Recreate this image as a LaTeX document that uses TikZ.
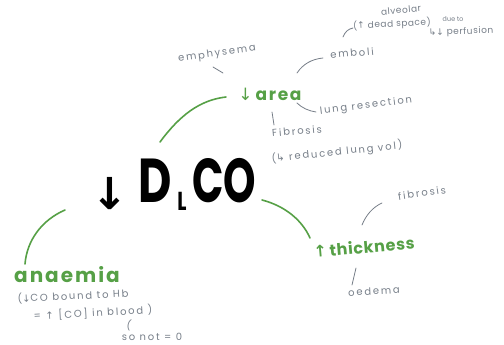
\documentclass[tikz,border=0pt]{standalone}
\usepackage{fontspec}
\setmainfont{Poppins}
\newfontfamily\sym{DejaVu Sans}
\definecolor{mg}{RGB}{86,160,70}
\definecolor{mgray}{RGB}{118,126,136}
\begin{document}
\begin{tikzpicture}[x=1pt,y=-1pt,
  note/.style={text=mgray,inner sep=0pt,align=center,font=\fontsize{10}{11}\selectfont\addfontfeatures{LetterSpace=18}},
  tight/.style={text=mgray,inner sep=0pt,align=center,font=\fontsize{9}{10}\selectfont\addfontfeatures{LetterSpace=6}},
  small/.style={text=mgray,inner sep=0pt,font=\fontsize{6.5}{7}\selectfont},
  topic/.style={text=mg,inner sep=0pt,font=\bfseries\fontsize{17}{18}\selectfont\addfontfeatures{LetterSpace=10}},
  big/.style={text=black,inner sep=0pt,font=\bfseries\fontsize{62}{62}\selectfont,xscale=0.74},
  gline/.style={draw=mg,line width=1.6pt,line cap=round},
  nline/.style={draw=mgray,line width=0.8pt,line cap=round}]
\useasboundingbox (0,0) rectangle (504,345);
% main term
\node[inner sep=0pt,font=\sym\bfseries\fontsize{44}{44}\selectfont] (arr) at (110,194) {↓};
\node[big] (d) at (155,181) {D};
\node[big,font=\bfseries\fontsize{26}{26}\selectfont] (l) at (182,201) {L};
\node[big,xscale=0.9] (co) at (224,181) {CO};
% topics
\node[topic] (area) at (270,94) {{\sym\mdseries↓}\,area};
\node[topic] (anaemia) at (67,275) {\fontsize{20}{20}\selectfont anaemia};
\node[topic,rotate=5,font=\bfseries\fontsize{16}{17}\selectfont\addfontfeatures{LetterSpace=4}] (thick) at (364,247) {{\sym↑}\,thickness};
% notes around area
\node[note,rotate=8] (emph) at (217,54) {emphysema};
\node[note,rotate=5] (emboli) at (352,53) {emboli};
\node[tight,rotate=5] (alv) at (401,10) {alveolar};
\node[tight,rotate=3] (dead) at (392,24) {({\sym↑} dead space)};
\node[small,rotate=3] (due) at (453,19) {due to};
\node[tight,rotate=2] (perf) at (461,32) {{\sym↳↓} perfusion};
\node[note,rotate=7] (resec) at (366,106) {lung resection};
\node[note,rotate=5] (fib1) at (297,131) {Fibrosis};
\node[note,rotate=6] (vol) at (337,152) {({\sym↳} reduced lung vol)};
% notes around thickness
\node[note,rotate=8] (fib2) at (422,193) {fibrosis};
\node[note,rotate=3] (oed) at (374,291) {oedema};
% notes under anaemia
\node[note,rotate=3] (an1) at (73,296) {({\sym↓}CO bound to Hb};
\node[note,rotate=3] (an2) at (93,313) {= {\sym↑} [CO] in blood )};
\node[note,rotate=-10] (br) at (129,325) {(};
\node[note] (an3) at (152,337) {so not = 0};
% green connectors
\coordinate (c1) at (160,142); \coordinate (c1e) at (226,97);
\coordinate (c2) at (65,210);  \coordinate (c2e) at (25,264);
\coordinate (c3) at (262,200); \coordinate (c3e) at (310,238);
\draw[gline] (c1) .. controls (180,115) and (200,100) .. (c1e);
\draw[gline] (c2) .. controls (42,220) and (27,240) .. (c2e);
\draw[gline] (c3) .. controls (285,206) and (302,220) .. (c3e);
% gray connectors
\coordinate (g1a) at (213,67); \coordinate (g1b) at (223,73);
\draw[nline] (g1a) -- (g1b);
\coordinate (g2a) at (297,73); \coordinate (g2b) at (323,58);
\draw[nline] (g2a) .. controls (303,64) and (312,59) .. (g2b);
\coordinate (g3a) at (343,37); \coordinate (g3b) at (353,28);
\draw[nline] (g3a) .. controls (345,32) and (348,29) .. (g3b);
\coordinate (g4a) at (297,103); \coordinate (g4b) at (316,112);
\draw[nline] (g4a) .. controls (302,108) and (309,111) .. (g4b);
\coordinate (g5a) at (272,112); \coordinate (g5b) at (274,125);
\draw[nline] (g5a) -- (g5b);
\coordinate (g6a) at (362,225); \coordinate (g6b) at (382,203);
\draw[nline] (g6a) .. controls (366,215) and (373,207) .. (g6b);
\coordinate (g7a) at (356,268); \coordinate (g7b) at (352,285);
\draw[nline] (g7a) -- (g7b);
\end{tikzpicture}
\end{document}
